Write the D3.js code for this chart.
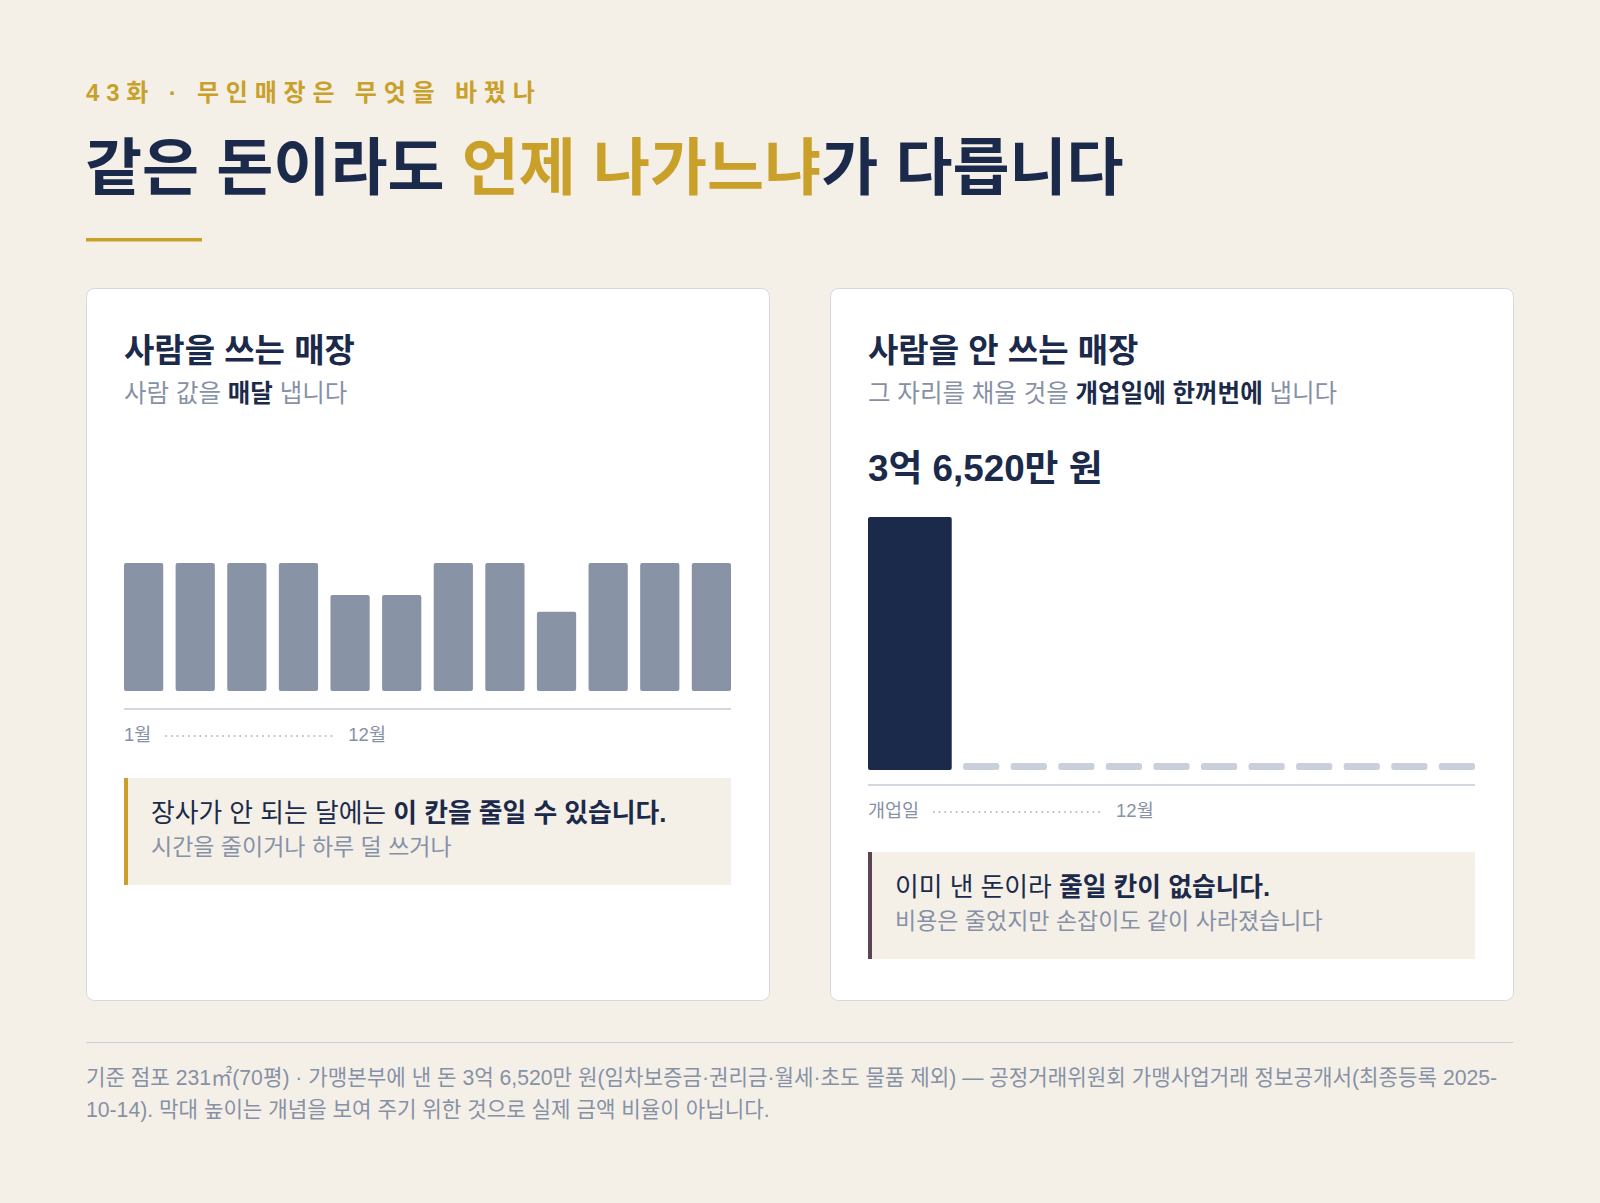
<!DOCTYPE html>
<html lang="ko">
<head>
<meta charset="utf-8">
<script src="https://cdn.jsdelivr.net/npm/d3@7"></script>
<style>
  html, body { margin: 0; padding: 0; background: #f4f0e8; }
  svg { display: block; font-family: "Liberation Sans", "Noto Sans CJK KR", sans-serif; }
</style>
</head>
<body>
<div id="chart"></div>
<script>
// data
const months = ['1월','2월','3월','4월','5월','6월','7월','8월','9월','10월','11월','12월'];
const staffCost = [100, 100, 100, 100, 75, 75, 100, 100, 62, 100, 100, 100]; // 개념값 (매달 나가는 인건비)
const unmannedCats = ['개업일','2월','3월','4월','5월','6월','7월','8월','9월','10월','11월','12월'];
const unmannedSpan = [2, 1, 1, 1, 1, 1, 1, 1, 1, 1, 1, 1];
const unmannedCost = [36520, 0, 0, 0, 0, 0, 0, 0, 0, 0, 0, 0]; // 만 원
const leftAxisLabels = ['1월', '12월'];
const rightAxisLabels = ['개업일', '12월'];

const navy = '#1b2a4a', gold = '#c9a02a', gray = '#8791a6';

const width = 1600, height = 1203;
const svg = d3.select('#chart').append('svg')
  .attr('width', width).attr('height', height);

svg.append('rect').attr('width', width).attr('height', height).attr('fill', '#f4f0e8');

// header
svg.append('text').attr('x', 86).attr('y', 101)
  .attr('fill', gold).style('font-size', '24px').style('font-weight', 700)
  .style('letter-spacing', '6.8px')
  .text('43화 · 무인매장은 무엇을 바꿨나');

const title = svg.append('text').attr('x', 85).attr('y', 190)
  .attr('fill', navy).style('font-size', '62px').style('font-weight', 700);
title.append('tspan').text('같은 돈이라도 ');
title.append('tspan').attr('fill', gold).text('언제 나가느냐');
title.append('tspan').text('가 다릅니다');

svg.append('rect').attr('x', 86).attr('y', 238).attr('width', 116).attr('height', 3.5).attr('fill', gold);

// cards
const cards = [{x: 86}, {x: 830}];
const cardW = 683, cardTop = 288, cardH = 712, pad = 38;
cards.forEach(c => {
  svg.append('rect').attr('x', c.x + 0.5).attr('y', cardTop + 0.5)
    .attr('width', cardW).attr('height', cardH).attr('rx', 8)
    .attr('fill', '#fff').attr('stroke', '#d5d8dd');
});

function richText(x, y, size, parts, weight) {
  const t = svg.append('text').attr('x', x).attr('y', y).style('font-size', size + 'px');
  parts.forEach(p => {
    t.append('tspan').attr('fill', p.c).style('font-weight', p.b ? 700 : (weight || 400)).text(p.t);
  });
  return t;
}

// left card
const lx = cards[0].x + pad, cw = 607;
richText(lx, 362, 33, [{t: '사람을 쓰는 매장', c: navy, b: true}]);
richText(lx, 402, 24.5, [{t: '사람 값을 ', c: gray}, {t: '매달', c: navy, b: true}, {t: ' 냅니다', c: gray}]);

const xL = d3.scaleBand().domain(months).range([lx, lx + cw]).paddingInner(0.24).paddingOuter(0);
const yL = d3.scaleLinear().domain([0, 100]).range([691, 563]);

svg.append('g').selectAll('rect').data(staffCost).join('rect')
  .attr('x', (d, i) => xL(months[i]))
  .attr('y', d => yL(d))
  .attr('width', xL.bandwidth())
  .attr('height', d => yL(0) - yL(d))
  .attr('rx', 2)
  .attr('fill', '#8893a6');

function axisRow(x0, lineY, labels) {
  svg.append('line').attr('x1', x0).attr('x2', x0 + cw).attr('y1', lineY).attr('y2', lineY)
    .attr('stroke', '#d3d8e0').attr('stroke-width', 2);
  const ty = lineY + 32;
  const a = svg.append('text').attr('x', x0).attr('y', ty).attr('fill', gray).style('font-size', '18.5px').text(labels[0]);
  const aw = a.node().getComputedTextLength();
  const d0 = x0 + aw + 14, d1 = d0 + 170;
  svg.append('line').attr('x1', d0).attr('x2', d1).attr('y1', ty - 5).attr('y2', ty - 5)
    .attr('stroke', '#a3abbb').attr('stroke-width', 1.6).attr('stroke-dasharray', '1.6 4.1');
  svg.append('text').attr('x', d1 + 13).attr('y', ty).attr('fill', gray).style('font-size', '18.5px').text(labels[1]);
}
axisRow(lx, 709, leftAxisLabels);

function noteBox(x, y, h, border, line1, line2) {
  svg.append('rect').attr('x', x).attr('y', y).attr('width', cw).attr('height', h).attr('fill', '#f4f0e8');
  svg.append('rect').attr('x', x).attr('y', y).attr('width', 4).attr('height', h).attr('fill', border);
  richText(x + 27, y + 44, 25.8, line1);
  richText(x + 27, y + 77, 23, [{t: line2, c: gray}]);
}
noteBox(lx, 778, 107, gold,
  [{t: '장사가 안 되는 달에는 ', c: navy}, {t: '이 칸을 줄일 수 있습니다.', c: navy, b: true}],
  '시간을 줄이거나 하루 덜 쓰거나');

// right card
const rx = cards[1].x + pad;
richText(rx, 362, 33, [{t: '사람을 안 쓰는 매장', c: navy, b: true}]);
richText(rx, 402, 24.5, [{t: '그 자리를 채울 것을 ', c: gray}, {t: '개업일에 한꺼번에', c: navy, b: true}, {t: ' 냅니다', c: gray}]);
richText(rx, 481, 36.8, [{t: '3억 ' + d3.format(',')(unmannedCost[0] % 10000) + '만 원', c: navy, b: true}]);

const starts = d3.cumsum([0].concat(unmannedSpan.slice(0, -1)));
const totalUnits = d3.sum(unmannedSpan);
const gapFrac = 0.24;
const unit = cw / (totalUnits - gapFrac);
const xR = d3.scaleLinear().domain([0, totalUnits]).range([rx, rx + unit * totalUnits]);
const yR = d3.scaleLinear().domain([0, d3.max(unmannedCost)]).range([770, 517]);
const stubH = 7;

svg.append('g').selectAll('rect').data(unmannedCost).join('rect')
  .attr('x', (d, i) => xR(starts[i]))
  .attr('width', (d, i) => xR(starts[i] + unmannedSpan[i]) - xR(starts[i]) - unit * gapFrac)
  .attr('y', d => d > 0 ? yR(d) : yR(0) - stubH)
  .attr('height', d => d > 0 ? yR(0) - yR(d) : stubH)
  .attr('rx', d => d > 0 ? 2 : 2.5)
  .attr('fill', d => d > 0 ? navy : '#c9d0dc');

axisRow(rx, 785, rightAxisLabels);

noteBox(rx, 852, 107, '#5a4652',
  [{t: '이미 낸 돈이라 ', c: navy}, {t: '줄일 칸이 없습니다.', c: navy, b: true}],
  '비용은 줄었지만 손잡이도 같이 사라졌습니다');

// footer
svg.append('line').attr('x1', 86).attr('x2', 1513).attr('y1', 1042.5).attr('y2', 1042.5)
  .attr('stroke', '#c9d0da').attr('stroke-width', 1);
const footLines = [
  '기준 점포 231㎡(70평) · 가맹본부에 낸 돈 3억 6,520만 원(임차보증금·권리금·월세·초도 물품 제외) — 공정거래위원회 가맹사업거래 정보공개서(최종등록 2025-',
  '10-14). 막대 높이는 개념을 보여 주기 위한 것으로 실제 금액 비율이 아닙니다.'
];
svg.append('g').selectAll('text').data(footLines).join('text')
  .attr('x', 86).attr('y', (d, i) => 1085 + i * 32)
  .attr('fill', gray).style('font-size', '21.2px')
  .text(d => d);
</script>
</body>
</html>
